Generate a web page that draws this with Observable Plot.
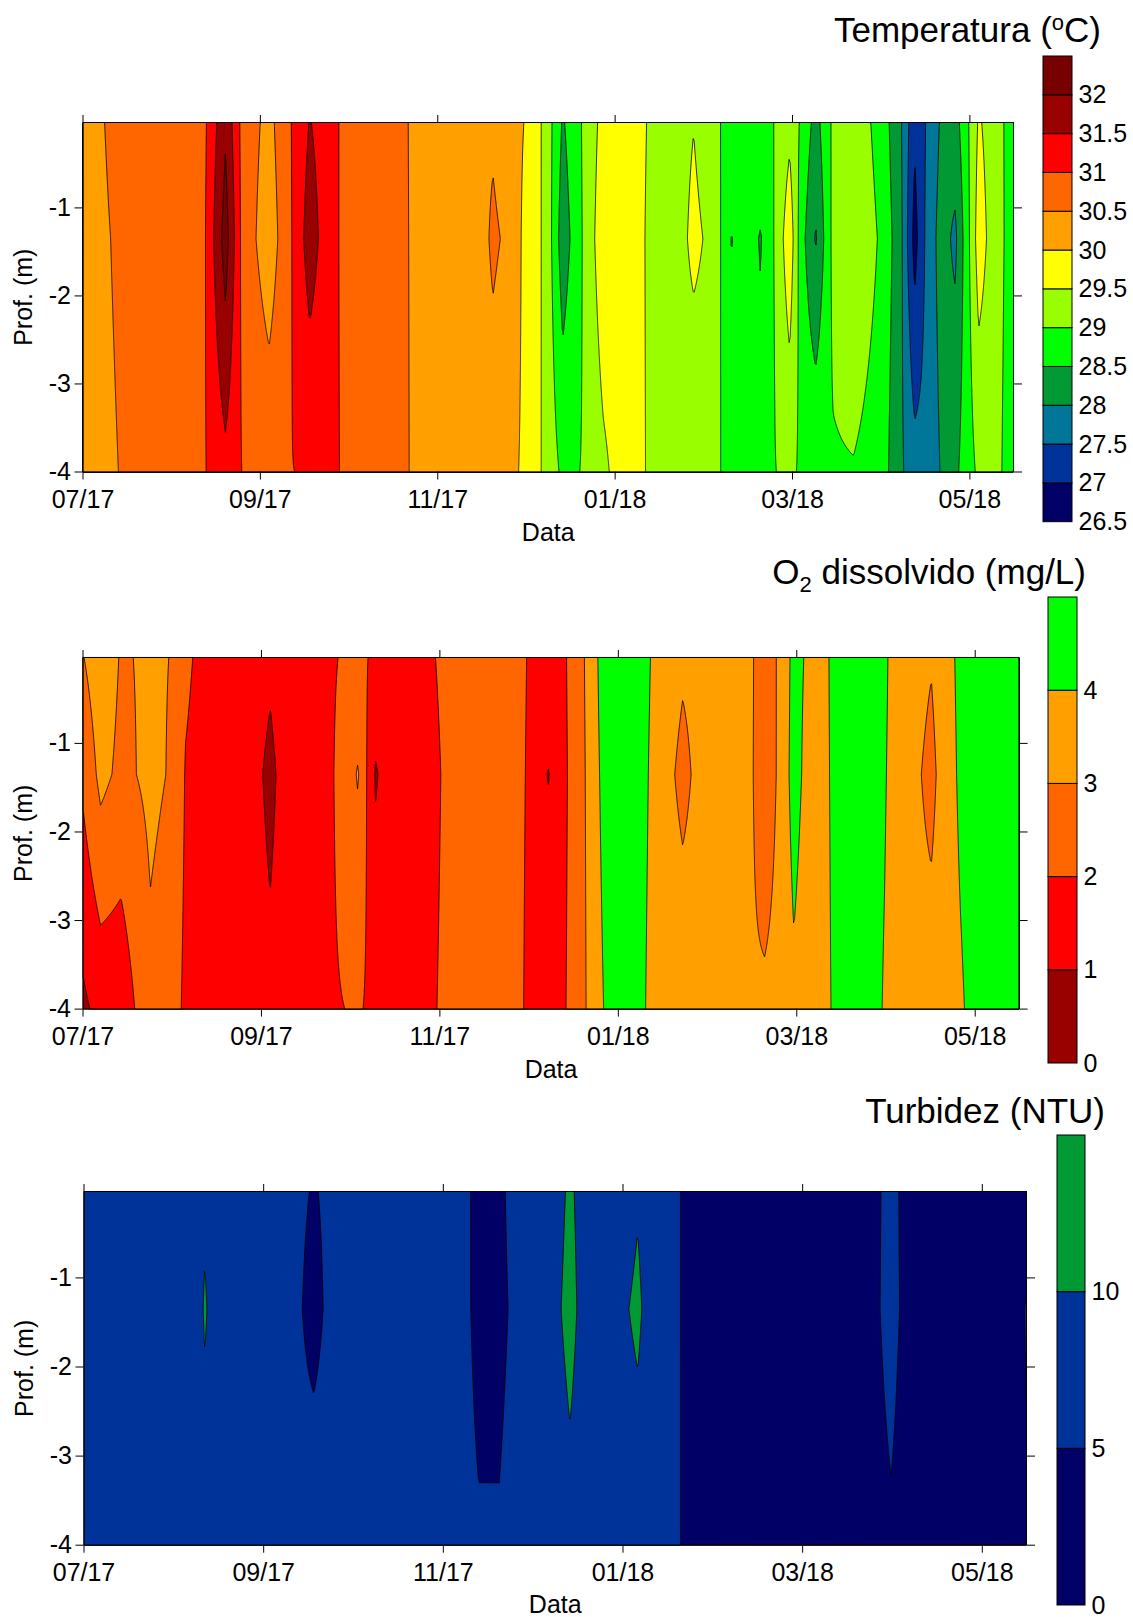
<!DOCTYPE html>
<html>
<head>
<meta charset="utf-8">
<script src="https://cdn.jsdelivr.net/npm/d3@7"></script>
<script src="https://cdn.jsdelivr.net/npm/@observablehq/plot@0.6"></script>
<style>
  html, body { margin: 0; padding: 0; background: #ffffff; width: 1133px; height: 1617px; overflow: hidden; }
  #page { position: relative; width: 1133px; height: 1617px; font-family: "Liberation Sans", Arial, sans-serif; color: #000; }
  .title { position: absolute; font-size: 35px; line-height: 35px; white-space: nowrap; text-align: right; }
</style>
</head>
<body>
<div id="page"></div>
<script>
// ---------------- DATA ----------------
// sampling dates (profiles) and sampling depths (m)
const sampleDates = [
  "2017-07-02","2017-07-08","2017-07-15","2017-07-25","2017-08-01","2017-08-06","2017-08-12","2017-08-20",
  "2017-08-26","2017-09-04","2017-09-11","2017-09-18","2017-09-25","2017-10-04","2017-10-10","2017-10-16",
  "2017-10-23","2017-10-30","2017-11-06","2017-11-13","2017-11-20","2017-11-26","2017-12-03","2017-12-08",
  "2017-12-14","2017-12-21","2017-12-28","2018-01-06","2018-01-13","2018-01-23","2018-01-28","2018-02-04",
  "2018-02-10","2018-02-15","2018-02-20","2018-02-25","2018-03-02","2018-03-06","2018-03-11","2018-03-17",
  "2018-03-24","2018-04-02","2018-04-09","2018-04-14","2018-04-18","2018-04-23","2018-04-28","2018-05-02",
  "2018-05-06","2018-05-11","2018-05-18"
];
const sampleDepths = [0, -1.35, -4];

// Temperature (ºC) at surface, middle, bottom
const tempTop = [30.3,30.45,30.7,30.7,30.72,30.72,30.8,31.91,30.8,30.35,30.95,31.52,31.2,30.6,30.62,30.6,
  30.48,30.4,30.38,30.4,30.43,30.2,29.9,29.34,28.45,29.05,29.68,29.75,29.45,29.3,29.48,29.06,
  28.9,28.85,28.9,29.01,29.35,28.93,28.32,29.1,29.3,28.84,28.1,27.1,27.52,28.05,28.3,28.9,
  29.55,29.3,28.73];
const tempMid = [30.25,30.4,30.6,30.7,30.72,30.75,30.8,32.24,30.8,30.2,30.9,31.76,31.15,30.7,30.68,30.62,
  30.48,30.4,30.38,30.18,30.58,30.39,29.65,29.44,28.2,29.04,29.85,29.8,29.4,29.3,29.65,29.32,
  28.48,28.75,28.46,29.05,29.85,28.7,27.95,29.15,29.4,28.96,28.2,26.8,27.6,28.2,27.9,28.8,
  29.75,29.29,28.75];
const tempBottom = [30.2,30.35,30.52,30.65,30.7,30.75,30.93,31.35,30.975,30.85,30.99,31.03,31.1,30.82,30.75,30.65,
  30.48,30.4,30.38,30.35,30.25,30.1,29.85,29.36,28.9,29.02,29.4,29.85,29.4,29.25,29.02,29.2,
  28.68,28.8,28.7,28.99,29.1,28.93,28.95,28.95,28.97,28.8,28.1,27.7,27.65,28.02,28.4,28.75,
  29.1,29.2,28.73];

// Dissolved O2 (mg/L)
const o2Top = [2.98,3.6,2.93,3.1,2.99,2.15,1.8,1.7,1.6,1.16,1.6,1.7,1.9,2.29,1.79,1.7,
  1.7,1.98,2.3,2.4,2.4,2.3,1.85,1.6,1.95,3.1,4.68,4.6,3.9,3.18,3.3,3.4,
  3.4,3.2,2.4,3.15,4.3,3.95,3.6,4.4,4.5,4.1,3.5,3.3,3.08,3.7,4.2,4.5,
  4.5,4.5,4.5];
const o2Mid = [2.2,3.26,2.79,3.19,2.94,1.95,1.7,1.6,1.5,0.8,1.5,1.6,1.9,3.08,0.9,1.6,
  1.6,1.85,2.3,2.4,2.4,2.3,1.8,0.95,1.9,3.05,4.5,4.6,3.8,2.7,3.22,3.4,
  3.4,3.2,2.3,3.18,4.4,3.8,3.6,4.35,4.5,4.05,3.5,3.05,2.7,3.6,4.15,4.4,
  4.5,4.5,4.5];
const o2Bottom = [0.8,1.3,1.29,2.8,2.5,1.8,1.6,1.6,1.5,1.2,1.5,1.6,1.9,2.1,1.75,1.65,
  1.65,1.95,2.3,2.4,2.4,2.3,1.72,1.6,1.98,3.0,4.17,4.5,3.69,3.69,3.5,3.4,
  3.3,3.1,3.2,3.3,3.79,3.5,3.6,4.25,4.5,3.95,3.5,3.4,3.48,3.6,3.9,4.2,
  4.5,4.5,4.5];

// Turbidity (NTU)
const turbTop = [7,7,7,7,7,7,9.52,7,7,7,7,4.5,7,7,7,7,
  7,7,7.4,3.5,4.0,7,7,8.5,10.5,8,8,9.71,8,4,3,3,
  3,3,3,3,3,3,3,3.5,4,5.6,4,3,3,3,3,3,
  3,4,4.2];
const turbMid = [7,7,7,7,7,7,10.3,7,7,7,7,2.48,8,7,7,7,
  7,7,7.4,3.5,3.8,6.2,7,9,11,8,9,10.5,8,4,3,3,
  3,3,3,3,3,3,3,3.5,4,5.7,4,3,3,3,3,3,
  3,4,5.1];
const turbBottom = [7,7,7,7,7,7,8.77,7,7,7,7,9.5,8,7,7,7,
  7,7,7,5.54,5.43,7,7,8,8.91,8,8,8.55,8,4,3,3,
  3,3,3,3,3,3,3,3.5,4,4.71,4,3,3,3,3,3,
  3,4,4.9];

// contour levels and colours
const tempThresholds = [26.5,27,27.5,28,28.5,29,29.5,30,30.5,31,31.5,32];
const tempColors = ["#000066","#003399","#007799","#009933","#00ff00","#99ff00","#ffff00","#ffa000","#ff6600","#ff0000","#990000","#770000"];
const tempScaleMax = 32.5;
const tempLegendLabels = ["26.5","27","27.5","28","28.5","29","29.5","30","30.5","31","31.5","32"];

const o2Thresholds = [0,1,2,3,4];
const o2Colors = ["#990000","#ff0000","#ff6600","#ffa000","#00ff00"];
const o2ScaleMax = 5;
const o2LegendLabels = ["0","1","2","3","4"];

const turbThresholds = [0,5,10];
const turbColors = ["#000066","#003399","#009933"];
const turbScaleMax = 15;
const turbLegendLabels = ["0","5","10"];

// axes (date ticks every 61 days)
const xDomain = ["2017-07-02","2018-05-18"];
const xTickDates = ["2017-07-02","2017-09-01","2017-11-01","2018-01-01","2018-03-03","2018-05-03"];
const xTickLabels = ["07/17","09/17","11/17","01/18","03/18","05/18"];
const yTickValues = [-1,-2,-3,-4];
const yTickLabels = ["-1","-2","-3","-4"];
const yDomain = [-4, -0.03];

// ---------------- DRAW ----------------
const parse = d3.utcParse("%Y-%m-%d");
const FONT = "Liberation Sans, Arial, sans-serif";
const page = document.getElementById("page");

function buildRows(top, mid, bottom) {
  const rows = [];
  sampleDates.forEach((ds, i) => {
    const date = parse(ds);
    [top, mid, bottom].forEach((arr, k) => rows.push({date, depth: sampleDepths[k], v: arr[i]}));
  });
  return rows;
}

// bilinear interpolation over the rectilinear (date x depth) sampling grid
function bilinear(index, width, height, X, Y, V) {
  const idx = Array.from(index);
  const xs = Array.from(new Set(idx.map(i => X[i]))).sort((a, b) => a - b);
  const ys = Array.from(new Set(idx.map(i => Y[i]))).sort((a, b) => a - b);
  const xi = new Map(xs.map((x, k) => [x, k]));
  const yi = new Map(ys.map((y, k) => [y, k]));
  const G = ys.map(() => new Float64Array(xs.length));
  for (const i of idx) G[yi.get(Y[i])][xi.get(X[i])] = V[i];
  const locate = (arr, n) => {
    const K = new Int32Array(n), F = new Float64Array(n);
    for (let p = 0; p < n; ++p) {
      const c = p + 0.5;
      let k = d3.bisectRight(arr, c) - 1;
      k = Math.max(0, Math.min(arr.length - 2, k));
      const f = (c - arr[k]) / (arr[k + 1] - arr[k]);
      F[p] = Math.max(0, Math.min(1, f));
      K[p] = k;
    }
    return [K, F];
  };
  const [CX, FX] = locate(xs, width);
  const [CY, FY] = locate(ys, height);
  const out = new Float64Array(width * height);
  for (let py = 0; py < height; ++py) {
    const r = CY[py], fy = FY[py], R0 = G[r], R1 = G[r + 1];
    for (let px = 0; px < width; ++px) {
      const c = CX[px], fx = FX[px];
      const a = R0[c] + (R0[c + 1] - R0[c]) * fx;
      const b = R1[c] + (R1[c + 1] - R1[c]) * fx;
      out[py * width + px] = a + (b - a) * fy;
    }
  }
  return out;
}

const xTicks = xTickDates.map(parse);
const xLabelOf = new Map(xTicks.map((d, i) => [+d, xTickLabels[i]]));
const yLabelOf = new Map(yTickValues.map((d, i) => [d, yTickLabels[i]]));

function place(el, left, top) {
  el.style.position = "absolute";
  el.style.left = left + "px";
  el.style.top = top + "px";
  page.appendChild(el);
}

function panel(cfg) {
  const mt = 20;
  const fh = cfg.frameBottom - cfg.frameTop;
  const svg = Plot.plot({
    width: 1133,
    height: mt + fh + cfg.marginBottom,
    marginLeft: cfg.frameLeft,
    marginRight: 1133 - cfg.frameRight,
    marginTop: mt,
    marginBottom: cfg.marginBottom,
    style: {fontFamily: FONT, fontSize: "25px", background: "none", color: "black", overflow: "visible"},
    x: {type: "utc", domain: xDomain.map(parse)},
    y: {domain: yDomain},
    color: {type: "threshold", domain: cfg.thresholds.slice(1), range: cfg.colors},
    marks: [
      Plot.contour(cfg.rows, {
        x: "date", y: "depth", fill: "v",
        thresholds: cfg.thresholds,
        interpolate: bilinear,
        pixelSize: 1,
        stroke: "black", strokeWidth: 0.8
      }),
      Plot.frame({stroke: "black", strokeWidth: 1}),
      Plot.axisX({anchor: "bottom", ticks: xTicks, tickFormat: d => xLabelOf.get(+d), tickSize: 8, tickPadding: 10, fontSize: 25, label: null}),
      Plot.axisX({anchor: "top", ticks: xTicks, tickFormat: () => "", tickSize: 8, label: null}),
      Plot.axisY({anchor: "left", ticks: yTickValues, tickFormat: d => yLabelOf.get(d), tickSize: 8, tickPadding: 4, fontSize: 25, label: null}),
      Plot.axisY({anchor: "right", ticks: yTickValues, tickFormat: () => "", tickSize: 8, label: null}),
      Plot.text(["Data"], {frameAnchor: "bottom", dy: cfg.xLabelDy, fontSize: 25, textAnchor: "middle", lineAnchor: "middle"}),
      Plot.text(["Prof. (m)"], {frameAnchor: "left", dx: -59.5, rotate: -90, fontSize: 25, textAnchor: "middle", lineAnchor: "middle"})
    ]
  });
  place(svg, 0, cfg.frameTop - mt);
}

function colorbar(cfg) {
  const mt = 20, mb = 20, mr = 90;
  const h = cfg.bottom - cfg.top;
  const bands = cfg.thresholds.map((lo, i) => ({lo, hi: i + 1 < cfg.thresholds.length ? cfg.thresholds[i + 1] : cfg.max}));
  const labelOf = new Map(cfg.thresholds.map((d, i) => [d, cfg.labels[i]]));
  const svg = Plot.plot({
    width: cfg.width + mr,
    height: h + mt + mb,
    marginLeft: 0, marginRight: mr, marginTop: mt, marginBottom: mb,
    style: {fontFamily: FONT, fontSize: "25px", background: "none", color: "black", overflow: "visible"},
    y: {domain: [cfg.thresholds[0], cfg.max]},
    color: {type: "threshold", domain: cfg.thresholds.slice(1), range: cfg.colors},
    marks: [
      Plot.rect(bands, {y1: "lo", y2: "hi", fill: "lo", stroke: "black", strokeWidth: 1}),
      Plot.axisY({anchor: "right", ticks: cfg.thresholds, tickFormat: d => labelOf.get(d), tickSize: 0, tickPadding: 6, fontSize: 25, label: null})
    ]
  });
  place(svg, cfg.left, cfg.top - mt);
}

function title(html, right, top) {
  const d = document.createElement("div");
  d.className = "title";
  d.innerHTML = html;
  d.style.right = (1133 - right) + "px";
  d.style.top = top + "px";
  page.appendChild(d);
}

// Panel 1: temperature
panel({rows: buildRows(tempTop, tempMid, tempBottom), thresholds: tempThresholds, colors: tempColors,
  frameLeft: 82.5, frameRight: 1013, frameTop: 121.7, frameBottom: 471.2, marginBottom: 80, xLabelDy: 61});
colorbar({thresholds: tempThresholds, colors: tempColors, max: tempScaleMax, labels: tempLegendLabels,
  left: 1042.5, width: 29, top: 56, bottom: 521.7});
title('Temperatura (<span style="font-size:22px;position:relative;top:-12px">o</span>C)', 1101, 11.5);

// Panel 2: dissolved oxygen
panel({rows: buildRows(o2Top, o2Mid, o2Bottom), thresholds: o2Thresholds, colors: o2Colors,
  frameLeft: 82.5, frameRight: 1018.6, frameTop: 656.7, frameBottom: 1008.3, marginBottom: 80, xLabelDy: 61});
colorbar({thresholds: o2Thresholds, colors: o2Colors, max: o2ScaleMax, labels: o2LegendLabels,
  left: 1047.5, width: 29, top: 597, bottom: 1063});
title('O<span style="font-size:22px;position:relative;top:8px">2</span> dissolvido (mg/L)', 1086, 553.5);

// Panel 3: turbidity
panel({rows: buildRows(turbTop, turbMid, turbBottom), thresholds: turbThresholds, colors: turbColors,
  frameLeft: 83.5, frameRight: 1026, frameTop: 1190.8, frameBottom: 1544.5, marginBottom: 72, xLabelDy: 60});
colorbar({thresholds: turbThresholds, colors: turbColors, max: turbScaleMax, labels: turbLegendLabels,
  left: 1057, width: 28, top: 1135, bottom: 1605});
title('Turbidez (NTU)', 1105, 1093);
</script>
</body>
</html>
